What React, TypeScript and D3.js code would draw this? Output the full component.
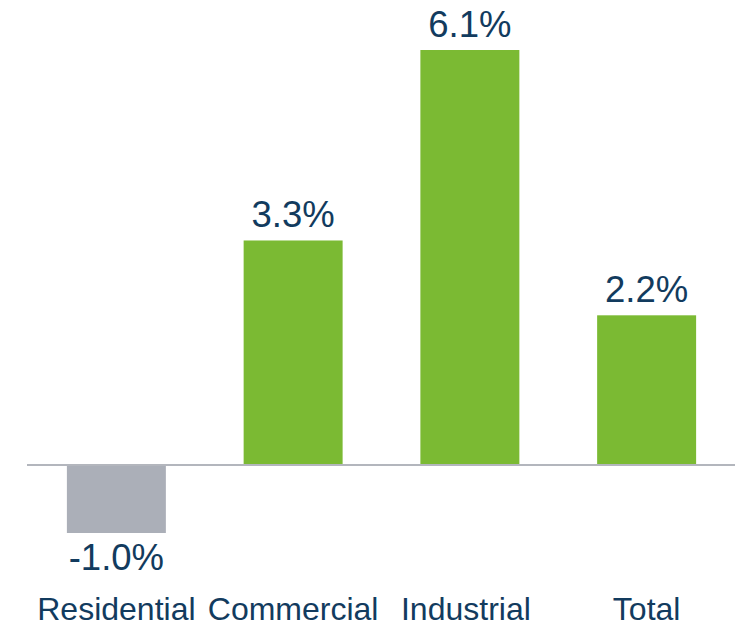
import * as d3 from "d3";

const categories = ["Residential", "Commercial", "Industrial", "Total"];
const values = [-1.0, 3.3, 6.1, 2.2];
const valueLabels = ["-1.0%", "3.3%", "6.1%", "2.2%"];

const width = 736;
const height = 625;

export default function App() {
  const x = d3
    .scaleBand<string>()
    .domain(categories)
    .range([28, 735])
    .paddingInner(0.44)
    .paddingOuter(0.22);

  const y = d3.scaleLinear().domain([-1, 6.1]).range([533, 50]);

  const textColor = "#123b5e";
  const font = "Arial, 'Liberation Sans', sans-serif";

  return (
    <svg
      width={width}
      height={height}
      style={{ position: "absolute", left: 0, top: 0, background: "#fff" }}
    >
      {/* 막대 */}
      {categories.map((c, i) => {
        const v = values[i];
        return (
          <rect
            key={c}
            x={x(c)!}
            y={Math.min(y(v), y(0))}
            width={x.bandwidth()}
            height={Math.abs(y(v) - y(0))}
            fill={v < 0 ? "#abafb8" : "#7bba33"}
          />
        );
      })}

      {/* 기준선 */}
      <line
        x1={27}
        x2={735}
        y1={y(0)}
        y2={y(0)}
        stroke="#b3b6bd"
        strokeWidth={2}
      />

      {/* 값 라벨 */}
      {categories.map((c, i) => {
        const v = values[i];
        const cx = x(c)! + x.bandwidth() / 2;
        const ty = v < 0 ? y(v) + 37 : y(v) - 13.5;
        return (
          <text
            key={c}
            x={cx}
            y={ty}
            textAnchor="middle"
            fontFamily={font}
            fontSize={36.5}
            fill={textColor}
          >
            {valueLabels[i]}
          </text>
        );
      })}

      {/* 카테고리 라벨 */}
      {categories.map((c) => (
        <text
          key={c}
          x={x(c)! + x.bandwidth() / 2 - (c === "Industrial" ? 4 : 0)}
          y={619.5}
          textAnchor="middle"
          fontFamily={font}
          fontSize={32}
          fill={textColor}
        >
          {c}
        </text>
      ))}
    </svg>
  );
}
